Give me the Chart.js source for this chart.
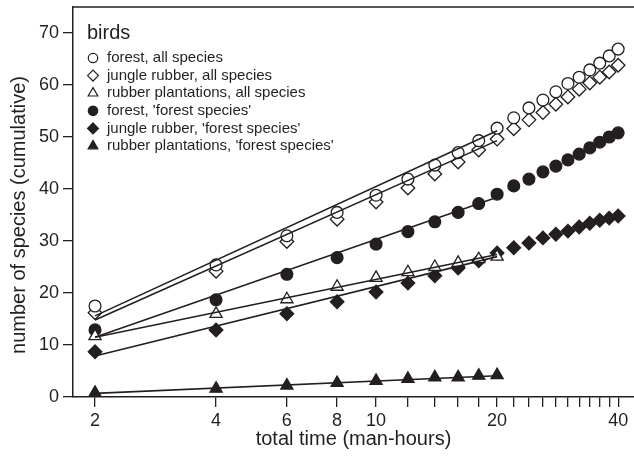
<!DOCTYPE html>
<html>
<head>
<meta charset="utf-8">
<script src="https://cdn.jsdelivr.net/npm/chart.js@4.4.1/dist/chart.umd.min.js"></script>
<style>
html,body{margin:0;padding:0;background:#ffffff;}
#wrap{width:634px;height:458px;position:relative;}
</style>
</head>
<body>
<div id="wrap"><canvas id="c" width="634" height="458"></canvas></div>
<script>
// ---- data ----
const hours = [2,4,6,8,10,12,14,16,18,20,22,24,26,28,30,32,34,36,38,40];
const hoursShort = [2,4,6,8,10,12,14,16,18,20];

const forestAll   = [17.5,25.4,31.0,35.5,38.8,41.9,44.6,47.0,49.3,51.7,53.7,55.6,57.1,58.7,60.3,61.5,62.9,64.2,65.6,66.9];
const jungleAll   = [16.2,24.2,29.9,34.2,37.5,40.2,42.9,45.2,47.5,49.6,51.6,53.3,54.7,56.3,57.7,59.2,60.4,61.5,62.5,63.8];
const rubberAll   = [11.7,16.0,18.8,21.2,22.9,24.0,25.0,25.8,26.5,27.0];
const forestFS    = [12.9,18.7,23.6,26.8,29.4,31.8,33.7,35.5,37.2,39.0,40.6,41.9,43.3,44.4,45.6,46.7,47.9,49.0,50.0,50.8];
const jungleFS    = [8.7,12.9,16.0,18.3,20.2,21.9,23.3,24.8,26.2,27.7,28.7,29.6,30.6,31.3,31.9,32.7,33.4,34.0,34.4,34.8];
const rubberFS    = [0.8,1.6,2.2,2.7,3.1,3.5,3.8,3.8,4.1,4.2];

// fitted lines (log-linear), endpoints at 2 and 20 man-hours
const fitHours       = [2,20];
const fitForestAll   = [15.6,51.2];
const fitJungleAll   = [14.8,49.3];
const fitRubberAll   = [11.5,27.4];
const fitForestFS    = [11.5,38.4];
const fitJungleFS    = [7.9,27.0];
const fitRubberFS    = [0.7,4.1];

const seriesLabels = [
  "forest, all species",
  "jungle rubber, all species",
  "rubber plantations, all species",
  "forest, 'forest species'",
  "jungle rubber, 'forest species'",
  "rubber plantations, 'forest species'"
];
const legendTitle = "birds";
const xTicks = [2,4,6,8,10,12,14,16,18,20,22,24,26,28,30,32,34,36,38,40];
const xTickLabels = [2,4,6,8,10,20,40];
const yTicks = [0,10,20,30,40,50,60,70];
const xTitle = "total time (man-hours)";
const yTitle = "number of species (cumulative)";

// ---- styling ----
const INK = '#231f20';
const FONT = '"Liberation Sans", Arial, Helvetica, sans-serif';

const pts = (xs, ys) => ys.map((v,i)=>({x:xs[i], y:v}));

const markerStyles = [
  {pointStyle:'circle',   radius:5.9, fill:'#ffffff'},
  {pointStyle:'rectRot',  radius:6.8, fill:'#ffffff'},
  {pointStyle:'triangle', radius:7.0, fill:'#ffffff'},
  {pointStyle:'circle',   radius:5.9, fill:INK},
  {pointStyle:'rectRot',  radius:6.8, fill:INK},
  {pointStyle:'triangle', radius:7.0, fill:INK}
];
const seriesData = [
  pts(hours, forestAll), pts(hours, jungleAll), pts(hoursShort, rubberAll),
  pts(hours, forestFS), pts(hours, jungleFS), pts(hoursShort, rubberFS)
];
const fitData = [
  pts(fitHours, fitForestAll), pts(fitHours, fitJungleAll), pts(fitHours, fitRubberAll),
  pts(fitHours, fitForestFS), pts(fitHours, fitJungleFS), pts(fitHours, fitRubberFS)
];

const datasets = [];
seriesData.forEach((d,i)=>{
  const m = markerStyles[i];
  datasets.push({
    type:'scatter', label: seriesLabels[i], data: d, showLine:false,
    pointStyle: m.pointStyle, pointRadius: m.radius, pointHoverRadius: m.radius,
    pointBackgroundColor: m.fill, pointBorderColor: INK, pointBorderWidth: 1.3,
    order: 2
  });
});
fitData.forEach((d,i)=>{
  datasets.push({
    type:'line', label: 'fit ' + seriesLabels[i], data: d, showLine:true,
    borderColor: INK, borderWidth: 1.6, pointRadius: 0, fill:false, tension:0,
    order: 1
  });
});

// custom legend + frame + y title plugin
const extras = {
  id:'extras',
  afterDraw(chart){
    const ctx = chart.ctx;
    const area = chart.chartArea;
    ctx.save();
    // top frame line
    ctx.strokeStyle = INK; ctx.lineWidth = 1.5;
    ctx.beginPath(); ctx.moveTo(area.left, area.top); ctx.lineTo(chart.width, area.top); ctx.stroke();

    // y axis title centred on the 0..70 range
    const ys = chart.scales.y;
    const cy = (ys.getPixelForValue(0) + ys.getPixelForValue(70)) / 2;
    ctx.fillStyle = INK;
    ctx.font = '20px ' + FONT;
    ctx.textAlign = 'center'; ctx.textBaseline = 'middle';
    ctx.translate(19, cy); ctx.rotate(-Math.PI/2);
    ctx.fillText(yTitle, 0, 0);
    ctx.restore();

    // legend
    ctx.save();
    ctx.fillStyle = INK;
    ctx.textAlign = 'left'; ctx.textBaseline = 'middle';
    ctx.font = '20px ' + FONT;
    ctx.fillText(legendTitle, area.left + 14, 33);
    ctx.font = '15px ' + FONT;
    const rowY0 = 58, rowH = 17.6;
    seriesLabels.forEach((lab,i)=>{
      const y = rowY0 + i*rowH;
      const m = markerStyles[i];
      ctx.fillStyle = m.fill; ctx.strokeStyle = INK; ctx.lineWidth = 1.2;
      Chart.helpers.drawPoint(ctx, {pointStyle:m.pointStyle, radius:m.radius*0.8, rotation:0, borderWidth:1.2}, area.left + 20, y);
      ctx.fillStyle = INK;
      ctx.fillText(lab, area.left + 34, y);
    });
    ctx.restore();
  }
};

new Chart(document.getElementById('c'), {
  data: { datasets },
  options: {
    responsive:false, animation:false, devicePixelRatio:1,
    layout:{ autoPadding:false, padding:{ top:7, right:0, left:0, bottom:0 } },
    plugins:{ legend:{display:false}, tooltip:{enabled:false}, title:{display:false} },
    scales:{
      x:{
        type:'logarithmic', position:'bottom', min:1.763, max:43.8,
        afterBuildTicks(scale){ scale.ticks = xTicks.map(v=>({value:v})); },
        afterFit(scale){ scale.height = 61; scale.paddingLeft = 0; scale.paddingRight = 0; scale.paddingTop = 0; scale.paddingBottom = 0; },
        ticks:{
          autoSkip:false, maxRotation:0, minRotation:0, padding:3, color:INK,
          font:{family:FONT, size:18},
          callback(v){ return xTickLabels.includes(v) ? String(v) : ''; }
        },
        grid:{ drawOnChartArea:false, drawTicks:true, tickLength:10, color:INK, lineWidth:1.3 },
        border:{ display:true, color:INK, width:1.5 },
        title:{ display:true, text:xTitle, color:INK, font:{family:FONT, size:20}, padding:{top:0,bottom:7} }
      },
      y:{
        type:'linear', position:'left', min:0, max:75,
        afterBuildTicks(scale){ scale.ticks = yTicks.map(v=>({value:v})); },
        afterFit(scale){ scale.width = 73; scale.paddingLeft = 0; scale.paddingRight = 0; scale.paddingTop = 0; scale.paddingBottom = 0; },
        ticks:{ padding:4, color:INK, font:{family:FONT, size:18} },
        grid:{ drawOnChartArea:false, drawTicks:true, tickLength:10, color:INK, lineWidth:1.3 },
        border:{ display:true, color:INK, width:1.5 },
        title:{ display:false }
      }
    }
  },
  plugins:[extras]
});
</script>
</body>
</html>
